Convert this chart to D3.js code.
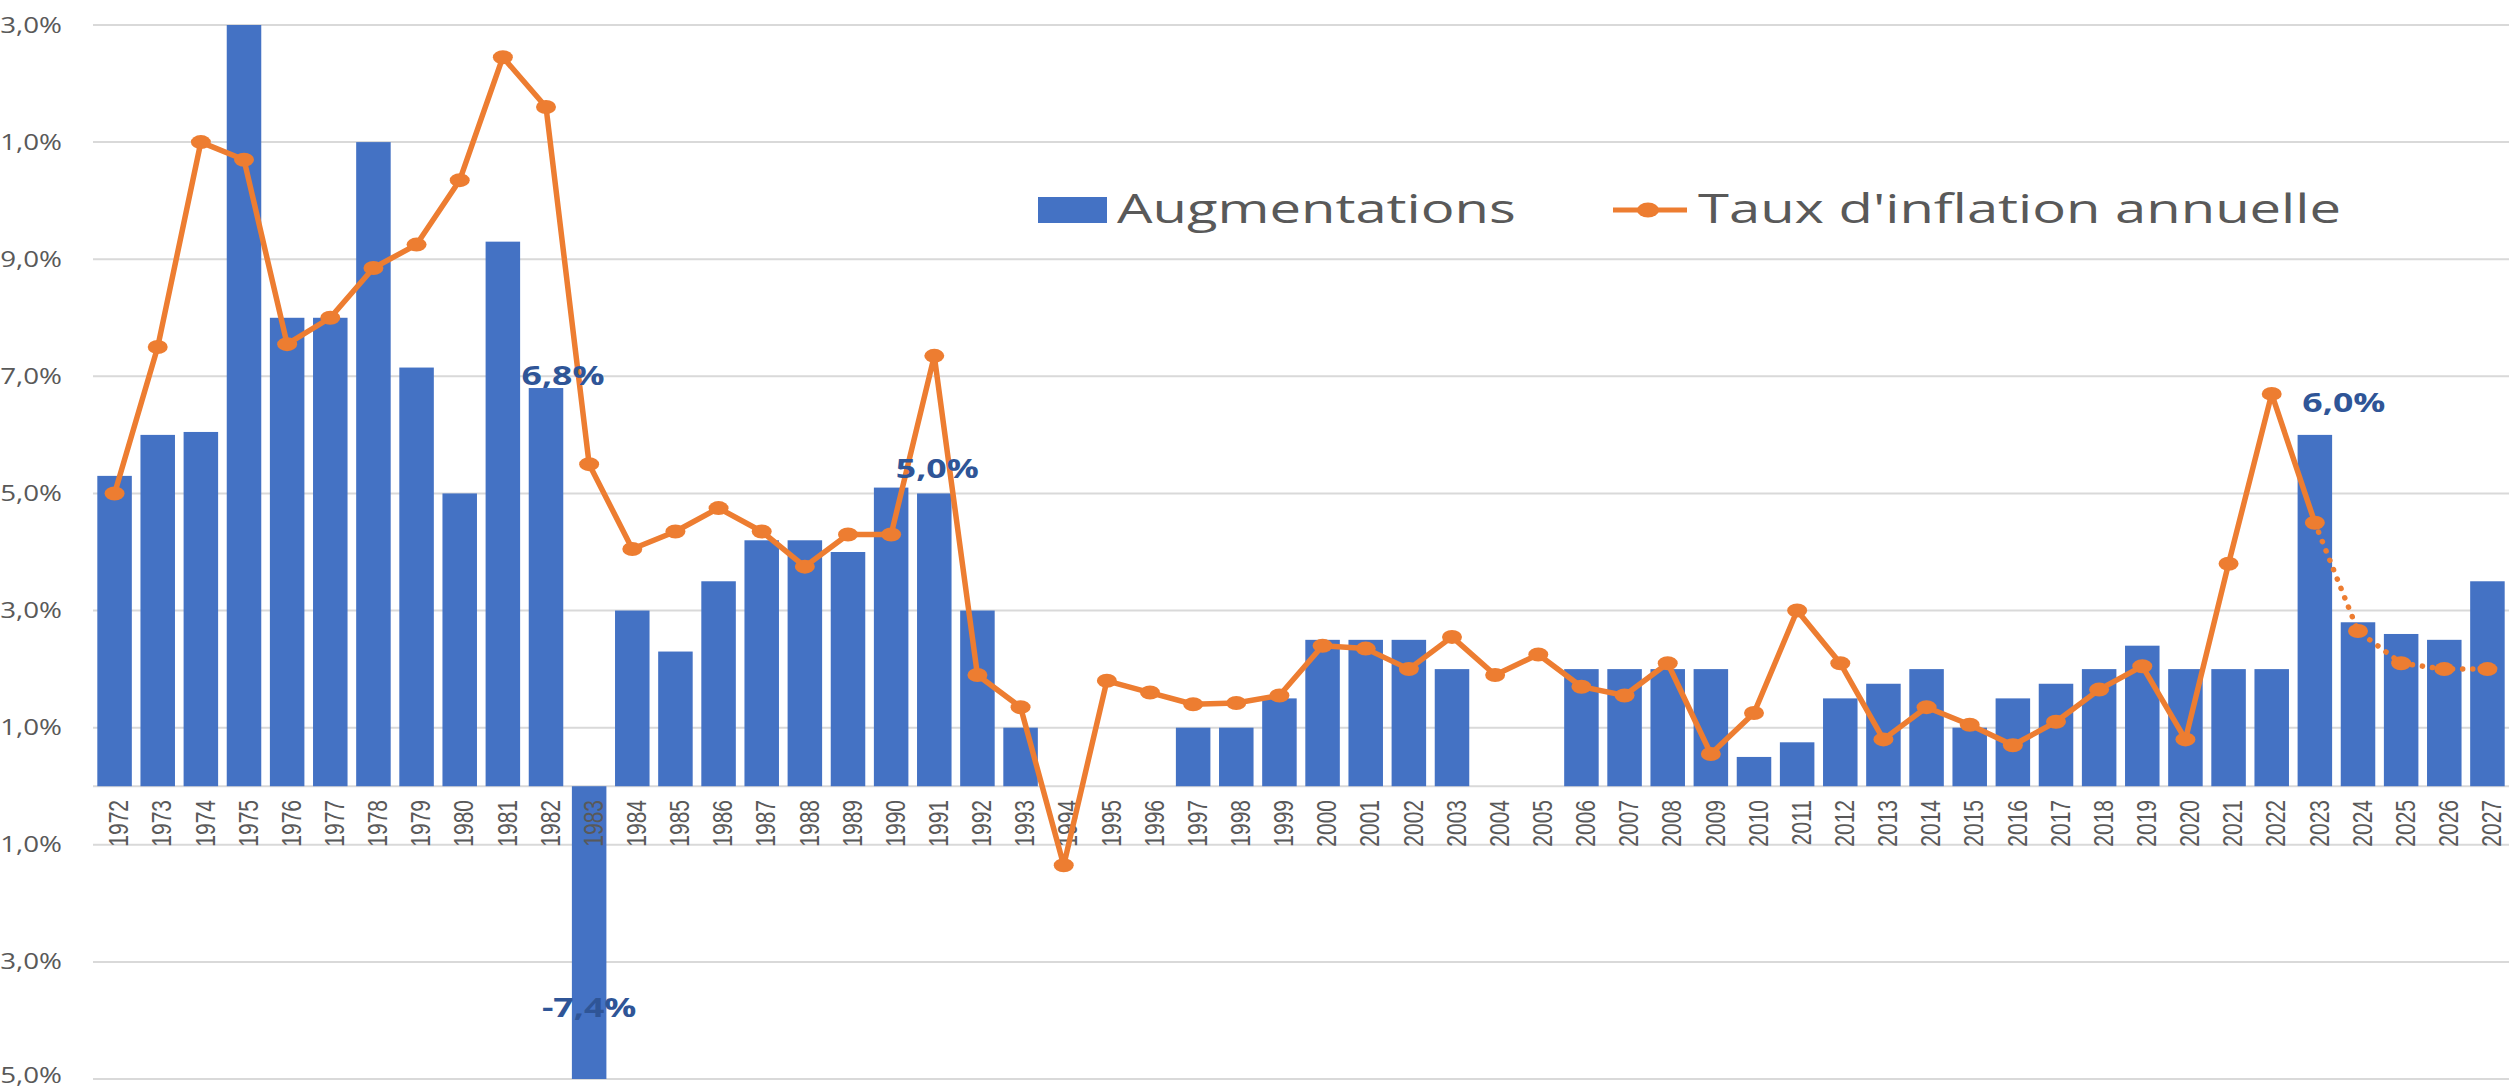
<!DOCTYPE html>
<html><head><meta charset="utf-8">
<script src="https://cdn.jsdelivr.net/npm/d3@7"></script>
<style>
html,body{margin:0;padding:0;background:#fff;overflow:hidden}
svg{display:block}
</style></head><body>
<svg id="chart" width="2514" height="1091"></svg>
<script>
// ---------- data ----------
const years = ["1972","1973","1974","1975","1976","1977","1978","1979","1980","1981",
  "1982","1983","1984","1985","1986","1987","1988","1989","1990","1991",
  "1992","1993","1994","1995","1996","1997","1998","1999","2000","2001",
  "2002","2003","2004","2005","2006","2007","2008","2009","2010","2011",
  "2012","2013","2014","2015","2016","2017","2018","2019","2020","2021",
  "2022","2023","2024","2025","2026","2027"];
const augmentations = [5.3,6.0,6.05,13.0,8.0,8.0,11.0,7.15,5.0,9.3,
  6.8,-7.4,3.0,2.3,3.5,4.2,4.2,4.0,5.1,5.0,
  3.0,1.0,0,0,0,1.0,1.0,1.5,2.5,2.5,
  2.5,2.0,0,0,2.0,2.0,2.0,2.0,0.5,0.75,
  1.5,1.75,2.0,1.0,1.5,1.75,2.0,2.4,2.0,2.0,
  2.0,6.0,2.8,2.6,2.5,3.5];
const inflation = [5.0,7.5,11.0,10.7,7.55,8.0,8.85,9.25,10.35,12.45,
  11.6,5.5,4.05,4.35,4.75,4.35,3.75,4.3,4.3,7.35,
  1.9,1.35,-1.35,1.8,1.6,1.4,1.42,1.55,2.4,2.35,
  2.0,2.55,1.9,2.25,1.7,1.55,2.1,0.55,1.25,3.0,
  2.1,0.8,1.35,1.05,0.7,1.1,1.65,2.05,0.8,3.8,
  6.7,4.5,2.65,2.1,2.0,2.0];
const yTicks = [13,11,9,7,5,3,1,-1,-3,-5];
// tick labels as they appear in the (left-cropped) original picture
const yTickLabels = ["3,0%","1,0%","9,0%","7,0%","5,0%","3,0%","1,0%","1,0%","3,0%","5,0%"];
const labeledYears = ["1982","1983","1991","2023"];
const forecastFrom = "2023";
const seriesNames = ["Augmentations","Taux d'inflation annuelle"];

// ---------- style ----------
const BLUE = "#4472C4", ORANGE = "#ED7D31", GRID = "#D9D9D9", TXT = "#595959", LBL = "#2F5597";
const SX = 1.32; // horizontal stretch of the original picture
const fmt = v => d3.format(".1f")(v).replace(".", ",").replace("\u2212", "-") + "%";

const svg = d3.select("#chart");
const x = d3.scaleBand().domain(years).range([93, 2509]).paddingInner(0.2).paddingOuter(0.1);
const y = d3.scaleLinear().domain([-5, 13]).range([1079, 25]).clamp(true);

// gridlines
svg.append("g").selectAll("line").data(yTicks).join("line")
  .attr("x1", 93).attr("x2", 2509)
  .attr("y1", d => y(d)).attr("y2", d => y(d))
  .attr("stroke", GRID).attr("stroke-width", 2);
// zero axis
svg.append("line").attr("x1", 93).attr("x2", 2509).attr("y1", y(0)).attr("y2", y(0))
  .attr("stroke", GRID).attr("stroke-width", 2);

// y tick labels (kept inside the canvas)
svg.append("g").selectAll("g").data(yTicks).join("g")
  .attr("transform", d => `translate(62,${Math.min(y(d), 1075)}) scale(${SX},1)`)
  .append("text").text((d, i) => yTickLabels[i])
  .attr("text-anchor", "end").attr("dy", "0.36em")
  .attr("font-family", "'Open Sans', 'Noto Sans', sans-serif").attr("font-size", 21)
  .attr("fill", TXT);

// bars
const data = years.map((yr, i) => ({yr, a: augmentations[i], inf: inflation[i]}));
svg.append("g").selectAll("rect").data(data).join("rect")
  .attr("x", d => x(d.yr)).attr("width", x.bandwidth())
  .attr("y", d => Math.min(y(d.a), y(0)))
  .attr("height", d => Math.abs(y(d.a) - y(0)))
  .attr("fill", BLUE);

// year labels
svg.append("g").selectAll("g").data(years).join("g")
  .attr("transform", d => `translate(${x(d) + x.bandwidth()/2 + 4},800) scale(1.28,1) rotate(-90)`)
  .append("text").text(d => d)
  .attr("text-anchor", "end").attr("dy", "0.36em")
  .attr("font-family", "'Liberation Sans', Arial, sans-serif").attr("font-size", 21)
  .attr("fill", TXT);

// inflation line
const cx = d => x(d.yr) + x.bandwidth()/2;
const line = d3.line().x(cx).y(d => y(d.inf));
const fi = years.indexOf(forecastFrom);
svg.append("path").datum(data.slice(0, fi + 1)).attr("d", line)
  .attr("fill", "none").attr("stroke", ORANGE).attr("stroke-width", 5.5).attr("stroke-linejoin", "round");
svg.append("path").datum(data.slice(fi)).attr("d", line)
  .attr("fill", "none").attr("stroke", ORANGE).attr("stroke-width", 5.5)
  .attr("stroke-dasharray", "0.1 10").attr("stroke-linecap", "round");
svg.append("g").selectAll("ellipse").data(data).join("ellipse")
  .attr("cx", cx).attr("cy", d => y(d.inf)).attr("rx", 10).attr("ry", 7)
  .attr("fill", ORANGE);

// data labels
const labelOffsets = {"1982": [17, -3], "1983": [0, 0], "1991": [3, -15], "2023": [29, -23]};
svg.append("g").selectAll("g").data(data.filter(d => labeledYears.includes(d.yr))).join("g")
  .attr("transform", d => {
    const o = labelOffsets[d.yr];
    const yy = d.a < 0 ? 1017 : y(d.a) + o[1];
    return `translate(${cx(d) + o[0]},${yy}) scale(${SX},1)`;
  })
  .append("text").text(d => fmt(d.a))
  .attr("text-anchor", "middle")
  .attr("font-family", "'Open Sans', 'Noto Sans', sans-serif").attr("font-size", 27).attr("font-weight", "bold")
  .attr("fill", LBL);

// legend
const LSX = 1.37;
const lg = svg.append("g");
lg.append("rect").attr("x", 1038).attr("y", 197).attr("width", 69).attr("height", 26).attr("fill", BLUE);
lg.append("g").attr("transform", `translate(1117,223) scale(${LSX},1)`)
  .append("text").text(seriesNames[0])
  .attr("font-family", "'Open Sans', 'Noto Sans', sans-serif").attr("font-size", 41).attr("fill", TXT);
lg.append("line").attr("x1", 1613).attr("x2", 1687).attr("y1", 210).attr("y2", 210)
  .attr("stroke", ORANGE).attr("stroke-width", 5);
lg.append("ellipse").attr("cx", 1648).attr("cy", 210).attr("rx", 11).attr("ry", 7.5).attr("fill", ORANGE);
lg.append("g").attr("transform", `translate(1698,223) scale(${LSX},1)`)
  .append("text").text(seriesNames[1])
  .attr("font-family", "'Open Sans', 'Noto Sans', sans-serif").attr("font-size", 41).attr("fill", TXT);
</script>
</body></html>
